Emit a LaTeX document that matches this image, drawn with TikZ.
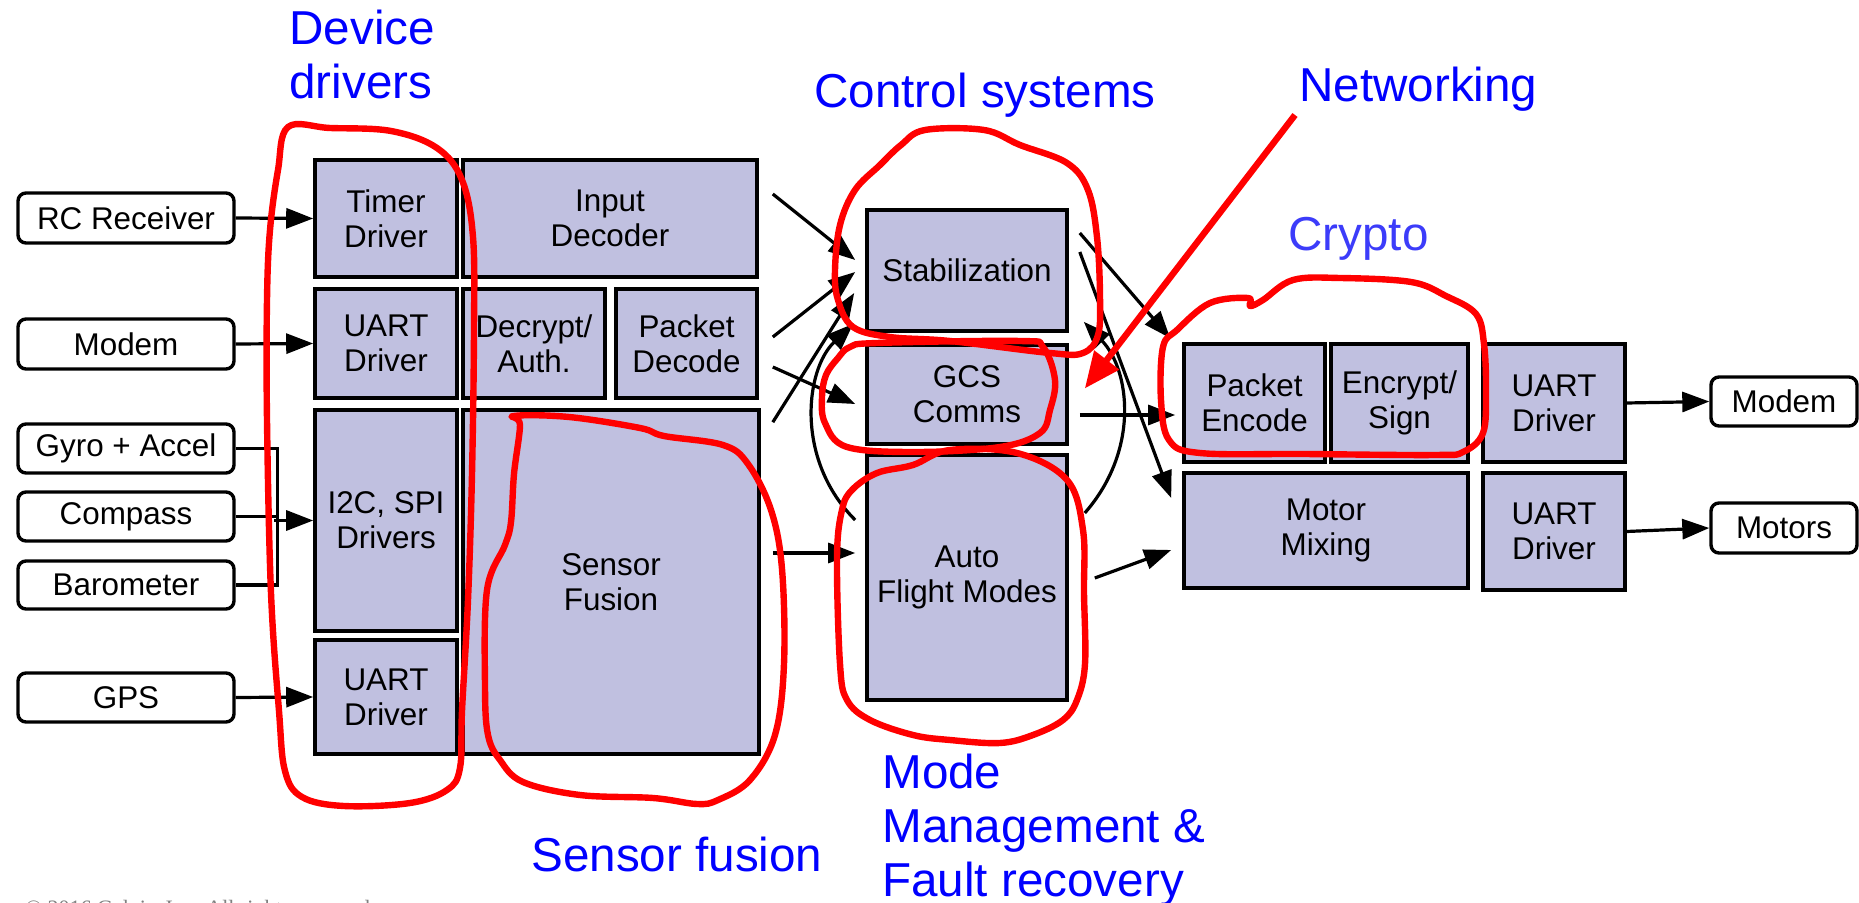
\documentclass[tikz,border=0pt]{standalone}
\usepackage{fontspec}
\setmainfont{Liberation Sans}
\newfontfamily\crfont{Liberation Serif}
\usetikzlibrary{calc,arrows.meta}
\definecolor{boxfill}{RGB}{192,192,224}
\definecolor{labblue}{RGB}{0,0,255}
\definecolor{cryblue}{RGB}{60,60,250}
\definecolor{hand}{RGB}{255,0,0}
\newcommand\blkat[6]{\node[blk, minimum width={(#4-#2)*0.5pt}, minimum height={(#5-#3)*0.5pt}] (#1) at ({(#2+#4)/2},{(#3+#5)/2}) {#6};}
\newcommand\inat[6]{\node[inb, minimum width={(#4-#2)*0.5pt}, minimum height={(#5-#3)*0.5pt}] (#1) at ({(#2+#4)/2},{(#3+#5)/2}) {#6};}
\begin{document}
\begin{tikzpicture}[x=0.5pt,y=-0.5pt,
  blk/.style={draw=black, line width=1.8pt, fill=boxfill, inner sep=0pt, align=center,
    font=\fontsize{15.7}{17.5}\selectfont},
  inb/.style={draw=black, line width=1.7pt, fill=white, rounded corners=4pt, inner sep=0pt,
    align=center, font=\fontsize{15.7}{17.5}\selectfont},
  arr/.style={-{Triangle[length=13.5pt,width=10pt]}, line width=1.6pt, black},
  wire/.style={line width=1.6pt, black, line join=miter},
  lbl/.style={text=labblue, inner sep=0pt, anchor=base west, font=\fontsize{23.8}{27}\selectfont},
  redloop/.style={draw=hand, line width=3.2pt, line cap=round, line join=round},
  redarr/.style={draw=hand, line width=3.2pt, -{Triangle[length=18pt,width=15pt]}}
]
\useasboundingbox (0,0) rectangle (1859,903);
\fill[white] (0,0) rectangle (1859,903);

% input boxes
\inat{rc}{18}{193}{234}{243}{RC Receiver}
\inat{modemin}{18}{319}{234}{369}{Modem}
\inat{gyro}{18}{424}{234}{473}{Gyro + Accel}
\inat{compass}{18}{492}{234}{541}{Compass}
\inat{baro}{18}{561}{234}{609}{Barometer}
\inat{gps}{18}{673}{234}{722}{GPS}

% driver column
\blkat{timer}{315}{160}{457}{277}{Timer\\Driver}
\blkat{uarta}{315}{289}{457}{398}{UART\\Driver}
\blkat{i2c}{315}{410}{457}{631}{I2C, SPI\\Drivers}
\blkat{uartb}{315}{640}{457}{754}{UART\\Driver}

% second column
\blkat{indec}{463}{160}{757}{277}{Input\\Decoder}
\blkat{decr}{463}{289}{605}{398}{Decrypt/\\Auth.}
\blkat{pdec}{616}{289}{757}{398}{Packet\\Decode}
\blkat{sfus}{463}{410}{759}{754}{Sensor\\Fusion}

% control
\blkat{stab}{867}{210}{1067}{331}{Stabilization}
\blkat{gcs}{867}{345}{1067}{444}{GCS\\Comms}
\blkat{auto}{867}{455}{1067}{700}{Auto\\Flight Modes}

% right
\blkat{penc}{1184}{344}{1325}{462}{Packet\\Encode}
\blkat{encr}{1331}{344}{1468}{462}{Encrypt/\\Sign}
\blkat{uartc}{1483}{344}{1625}{462}{UART\\Driver}
\blkat{mix}{1184}{473}{1468}{588}{Motor\\Mixing}
\blkat{uartd}{1483}{473}{1625}{590}{UART\\Driver}
\inat{modemout}{1711}{377}{1857}{426}{Modem}
\inat{motors}{1711}{503}{1857}{553}{Motors}

% input connectors
\draw[arr] (rc.east) -- (timer.west);
\draw[arr] (modemin.east) -- (uarta.west);
\draw[arr] (gps.east) -- (uartb.west);
\draw[wire] (gyro.east) -| ($(baro.east)+(42,0)$) -- (baro.east);
\draw[wire] (compass.east) -- ++(42,0);
\draw[arr] ($(i2c.west)+(-39,0)$) -- (i2c.west);

% inner connectors
\draw[arr] ($(indec.east)+(14,-24.5)$) -- ($(stab.west)+(-10,-10.5)$);
\draw[arr] ($(pdec.east)+(14,-6.5)$) -- ($(stab.west)+(-10,1.5)$);
\draw[arr] ($(pdec.east)+(14,23.5)$) -- ($(gcs.west)+(-10,9.5)$);
\draw[arr] ($(sfus.north east)+(12,14)$) -- ($(stab.west)+(-11,22.5)$);
\draw[arr] ($(sfus.east)+(12,-29)$) -- ($(auto.west)+(-10,-24.5)$);
\draw[arr] ($(auto.west)+(-10,-57.5)$) .. controls (795,460) and (805,370) .. ($(stab.south west)+(-12,-9)$);
\draw[arr] ($(auto.east)+(16,-64.5)$) .. controls (1140,450) and (1130,370) .. ($(stab.south east)+(15,-11)$);
\draw[arr] ($(stab.east)+(11,-37.5)$) -- ($(penc.north west)+(-12,-4)$);
\draw[arr] ($(stab.east)+(11,-18.5)$) -- ($(mix.west)+(-11,-32.5)$);
\draw[arr] ($(gcs.east)+(11,20.5)$) -- ($(penc.west)+(-7,12)$);
\draw[arr] ($(auto.east)+(26,0.5)$) -- ($(mix.west)+(-11,19.5)$);

% output connectors
\draw[arr] (uartc.east) -- (modemout.west);
\draw[arr] (uartd.east) -- (motors.west);

% hand-drawn red loops
\draw[redloop] plot[smooth cycle, tension=0.6] coordinates {(288,127) (330,128) (391,131) (437,148) (462,180) (473,237) (474,330) (472,474) (468,600) (462,711) (460,768) (447,790) (410,803) (344,806) (302,797) (285,771) (279,711) (271,593) (267,420) (267,300) (270,230) (278,170)};
\draw[redloop] plot[smooth cycle, tension=0.6] coordinates {(514,416) (569,417) (640,428) (664,436) (723,445) (748,464) (771,510) (782,569) (784,664) (775,735) (750,780) (718,800) (697,804) (653,798) (580,795) (523,782) (500,760) (488,735) (485,686) (487,590) (505,545) (511,522) (514,474) (520,425)};
\draw[redloop] plot[smooth cycle, tension=0.6] coordinates {(880,165) (901,145) (925,130) (984,130) (1020,145) (1067,163) (1088,190) (1097,237) (1100,296) (1098,335) (1083,353) (1050,353) (950,341) (890,337) (853,327) (838,300) (835,270) (840,225) (855,190)};
\draw[redloop] plot[smooth cycle, tension=0.6] coordinates {(850,347) (877,343) (1020,341) (1043,347) (1055,380) (1050,410) (1040,433) (1000,447) (917,452) (847,447) (825,423) (822,397) (826,375) (838,358)};
\draw[redloop] plot[smooth cycle, tension=0.6] coordinates {(913,465) (950,450) (1017,453) (1067,480) (1083,530) (1084,593) (1085,664) (1077,700) (1063,720) (1033,735) (1000,743) (950,740) (913,735) (870,720) (847,700) (840,664) (837,557) (842,510) (852,490) (877,473)};
\draw[redloop] plot[smooth cycle, tension=0.6] coordinates {(1250,306) (1263,300) (1293,280) (1340,278) (1411,282) (1446,296) (1476,314) (1484,344) (1486,391) (1483,433) (1463,452) (1435,455) (1304,454) (1200,453) (1169,440) (1161,400) (1163,347) (1177,330) (1210,303) (1248,298)};
\coordinate (netfrom) at (1295,115);
\draw[redarr] (netfrom) -- ($(gcs.east)+(16,-6)$);

% blue labels
\node[lbl] (ldev) at (289,45) {Device};
\node[lbl] (ldrv) at (289,99) {drivers};
\node[lbl] (lctl) at (814,108) {Control systems};
\node[lbl] (lnet) at (1299,102) {Networking};
\node[lbl, text=cryblue] (lcry) at (1288,251) {Crypto};
\node[lbl] (lsen) at (531,871) {Sensor fusion};
\node[lbl] (lmod1) at (882,788) {Mode};
\node[lbl] (lmod2) at (882,842) {Management \&};
\node[lbl] (lmod3) at (882,896) {Fault recovery};
\node[anchor=north west, inner sep=0pt, text=gray, font=\crfont\fontsize{11}{13}\selectfont] (copy) at (25,900) {\textcopyright\ 2016 Galois, Inc. All rights reserved.};
\end{tikzpicture}
\end{document}
